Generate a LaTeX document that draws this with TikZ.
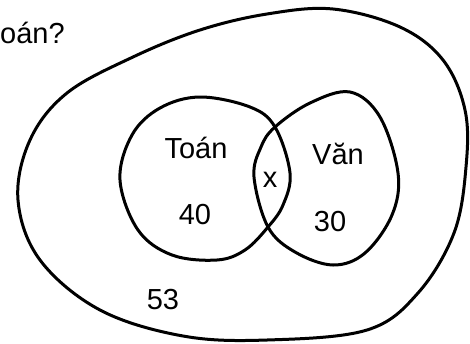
\documentclass[tikz,border=0pt]{standalone}
\usepackage{fontspec}
\setmainfont{Liberation Sans}
\begin{document}
\begin{tikzpicture}[x=1pt,y=-1pt,
  curve/.style={draw=black,line width=3pt,line join=round},
  lab/.style={inner sep=0pt,font=\fontsize{29}{32}\selectfont}]
\useasboundingbox (0,0) rectangle (470,343);
% outer region
\draw[curve] plot[smooth cycle,tension=0.6] coordinates{
 (333,9) (400,27) (443,60) (465,110) (466,167) (454,233) (418,293) (367,330)
 (267,340) (183,336) (100,310) (40,260) (18,200) (30,140) (67,93) (133,57)
 (200,30) (267,14)};
% Toan set
\draw[curve] plot[smooth cycle,tension=0.6] coordinates{
 (200,97) (250,107) (275,127) (290,173) (283,205) (268,227) (245,250)
 (217,260) (172,255) (138,230) (120,180) (132,135) (160,108)};
% Van set
\draw[curve] plot[smooth cycle,tension=0.6] coordinates{
 (275,127) (310,103) (350,92) (380,117) (398,173) (392,215) (365,253)
 (333,265) (295,252) (268,227) (254,177) (261,147)};
\node[lab,anchor=base west] (q) at (0,43) {oán?};
\node[lab] (toan) at (196,148) {Toán};
\node[lab] (van) at (338,154) {Văn};
\node[lab] (x) at (270,180) {x};
\node[lab] (n40) at (195,215) {40};
\node[lab] (n30) at (330,222) {30};
\node[lab] (n53) at (163,300) {53};
\end{tikzpicture}
\end{document}
